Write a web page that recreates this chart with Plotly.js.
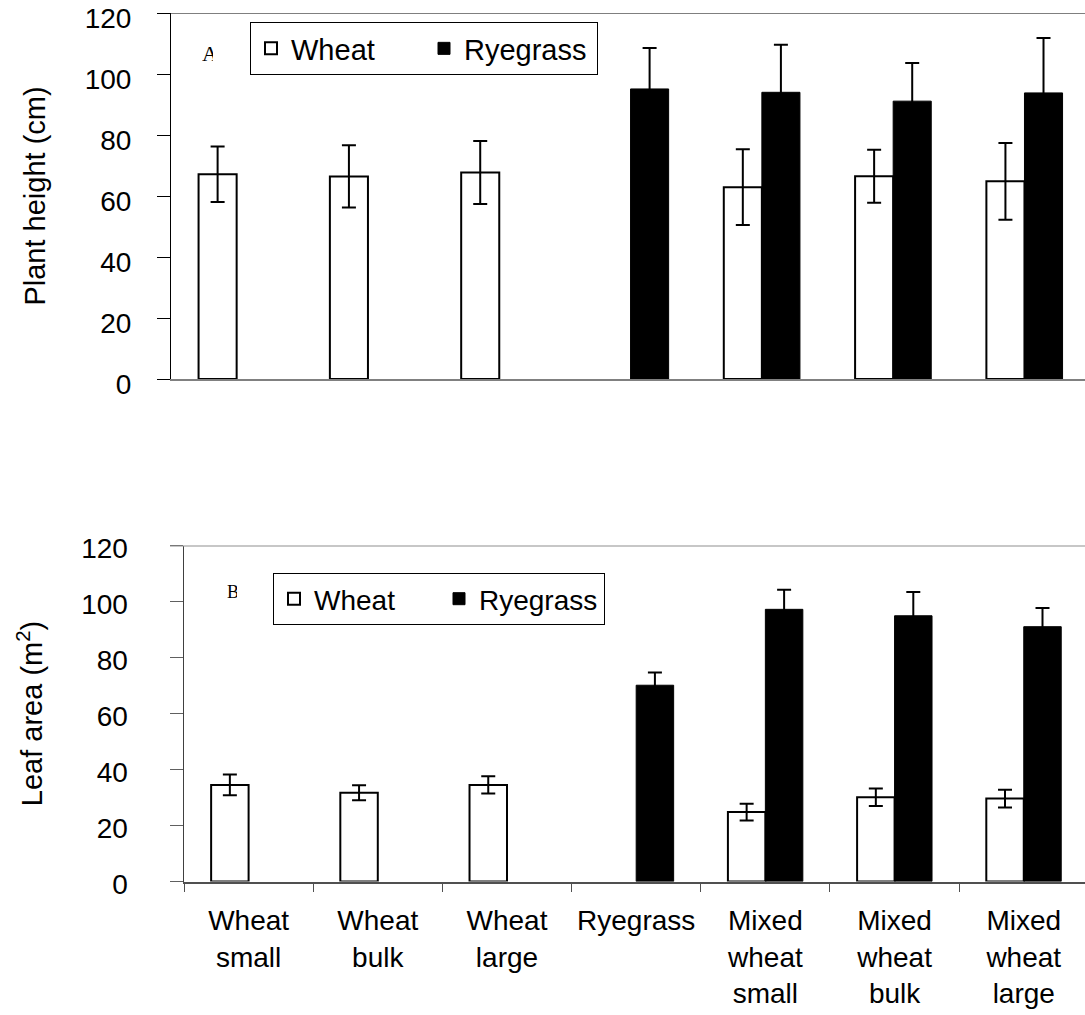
<!DOCTYPE html>
<html>
<head>
<meta charset="utf-8">
<script src="https://cdn.plot.ly/plotly-3.0.1.min.js"></script>
<style>
  html, body { margin: 0; padding: 0; background: #fff; overflow: hidden; }
  #chart { width: 1085px; height: 1015px; }
</style>
</head>
<body>
<div id="chart"></div>
<script>
// Treatments (x categories) and their multi-line tick labels
const categories = ['Wheat small', 'Wheat bulk', 'Wheat large', 'Ryegrass',
                    'Mixed wheat small', 'Mixed wheat bulk', 'Mixed wheat large'];
const tickLabels = ['Wheat<br>small', 'Wheat<br>bulk', 'Wheat<br>large', 'Ryegrass',
                    'Mixed<br>wheat<br>small', 'Mixed<br>wheat<br>bulk', 'Mixed<br>wheat<br>large'];

// Panel A: plant height (cm), mean and error
const heightWheat    = [67.1, 66.4, 67.7, null, 62.9, 66.5, 64.8];
const heightWheatErr = [9.1, 10.2, 10.3, null, 12.4, 8.7, 12.6];
const heightRye      = [null, null, null, 95.1, 94.0, 91.1, 93.8];
const heightRyeErr   = [null, null, null, 13.4, 15.6, 12.5, 18.0];

// Panel B: leaf area (m2), mean and error
const leafWheat    = [34.5, 31.7, 34.5, null, 24.8, 30.1, 29.6];
const leafWheatErr = [3.7, 2.7, 3.1, null, 3.0, 3.1, 3.2];
const leafRye      = [null, null, null, 70.1, 97.2, 94.9, 91.0];
const leafRyeErr   = [null, null, null, 4.5, 7.0, 8.5, 6.7];

const W = 1085, H = 1015;
const px = v => v / W;          // horizontal pixel -> paper fraction
const py = v => 1 - v / H;      // vertical pixel -> paper fraction

const FONT = 'Arial, "Liberation Sans", sans-serif';
const SERIF = '"Liberation Serif", "DejaVu Serif", serif';

function errBar(arr) {
  return { type: 'data', array: arr, visible: true, color: '#000', thickness: 2, width: 7 };
}

const wheatStyle = { color: '#ffffff', line: { color: '#000', width: 2 } };
const ryeStyle   = { color: '#000000', line: { color: '#000', width: 1 } };

const traces = [
  { type: 'bar', name: 'Wheat', x: categories, y: heightWheat, error_y: errBar(heightWheatErr),
    marker: wheatStyle, xaxis: 'x', yaxis: 'y', legend: 'legend' },
  { type: 'bar', name: 'Ryegrass', x: categories, y: heightRye, error_y: errBar(heightRyeErr),
    marker: ryeStyle, xaxis: 'x', yaxis: 'y', legend: 'legend' },
  { type: 'bar', name: 'Wheat', x: categories, y: leafWheat, error_y: errBar(leafWheatErr),
    marker: wheatStyle, xaxis: 'x2', yaxis: 'y2', legend: 'legend2' },
  { type: 'bar', name: 'Ryegrass', x: categories, y: leafRye, error_y: errBar(leafRyeErr),
    marker: ryeStyle, xaxis: 'x2', yaxis: 'y2', legend: 'legend2' }
];

const tickFont = { family: FONT, size: 28, color: '#000' };

const layout = {
  width: W, height: H,
  margin: { l: 0, r: 0, t: 0, b: 0 },
  paper_bgcolor: '#fff', plot_bgcolor: '#fff',
  barmode: 'group', bargap: 0.42, bargroupgap: 0,
  showlegend: true,
  font: { family: FONT, color: '#000' },

  xaxis: {
    domain: [px(171), 1], anchor: 'y', type: 'category',
    categoryorder: 'array', categoryarray: categories,
    range: [-0.5, 6.461],
    showline: true, linecolor: '#808080', linewidth: 2,
    showticklabels: false, ticks: '', showgrid: false, zeroline: false
  },
  yaxis: {
    domain: [py(379), py(13)], anchor: 'x',
    range: [0, 120], dtick: 20, tick0: 0,
    showline: true, linecolor: '#000', linewidth: 1,
    ticks: 'outside', ticklen: 13, tickcolor: '#000', tickwidth: 1,
    tickfont: tickFont, ticklabelstandoff: 20, ticklabelshift: 5, ticklabeloverflow: 'allow',
    showgrid: false, zeroline: false,
    title: { text: 'Plant height (cm)', font: { family: FONT, size: 29, color: '#000' }, standoff: 30 }
  },

  xaxis2: {
    domain: [px(184), 1], anchor: 'y2', type: 'category',
    categoryorder: 'array', categoryarray: categories,
    range: [-0.5, 6.474],
    tickmode: 'array', tickvals: categories, ticktext: tickLabels,
    tickson: 'boundaries', tickangle: 0, ticklabeloverflow: 'allow',
    showline: true, linecolor: '#505050', linewidth: 2,
    ticks: 'outside', ticklen: 8, tickcolor: '#505050', tickwidth: 1,
    tickfont: { family: FONT, size: 28, color: '#000' }, ticklabelstandoff: 13,
    showgrid: false, zeroline: false
  },
  yaxis2: {
    domain: [py(881.5), py(545.5)], anchor: 'x2',
    range: [0, 120], dtick: 20, tick0: 0,
    showline: true, linecolor: '#404040', linewidth: 1.5,
    ticks: 'outside', ticklen: 13, tickcolor: '#606060', tickwidth: 1,
    tickfont: tickFont, ticklabelstandoff: 36, ticklabelshift: 3, ticklabeloverflow: 'allow',
    showgrid: false, zeroline: false,
    title: { text: 'Leaf area (m<sup>2</sup>)', font: { family: FONT, size: 29, color: '#000' }, standoff: 30 }
  },

  legend: {
    x: px(250), y: py(22), xanchor: 'left', yanchor: 'top',
    orientation: 'h', bgcolor: '#fff', bordercolor: '#000', borderwidth: 1,
    font: { family: FONT, size: 29, color: '#000' }, entrywidth: 128,
    itemclick: false, itemdoubleclick: false
  },
  legend2: {
    x: px(273), y: py(573), xanchor: 'left', yanchor: 'top',
    orientation: 'h', bgcolor: '#fff', bordercolor: '#000', borderwidth: 1,
    font: { family: FONT, size: 28, color: '#000' }, entrywidth: 120,
    itemclick: false, itemdoubleclick: false
  },

  shapes: [
    // upper frame line of each panel
    { type: 'line', xref: 'paper', yref: 'y', x0: px(158), x1: 1, y0: 120, y1: 120,
      line: { color: '#000', width: 1 } },
    { type: 'line', xref: 'paper', yref: 'y2', x0: px(170), x1: 1, y0: 120, y1: 120,
      line: { color: '#909090', width: 2 } }
  ],

  annotations: [
    // panel letters, partly hidden behind their text boxes
    { text: 'A', xref: 'paper', yref: 'paper', x: px(201), y: py(40), xanchor: 'left', yanchor: 'top',
      showarrow: false, width: 11, align: 'left', borderpad: 0,
      font: { family: SERIF, size: 22, color: '#000' } },
    { text: 'B', xref: 'paper', yref: 'paper', x: px(226), y: py(581), xanchor: 'left', yanchor: 'top',
      showarrow: false, width: 10, align: 'left', borderpad: 0,
      font: { family: SERIF, size: 18, color: '#000' } }
  ]
};

Plotly.newPlot('chart', traces, layout, { staticPlot: true, displayModeBar: false });
</script>
</body>
</html>
